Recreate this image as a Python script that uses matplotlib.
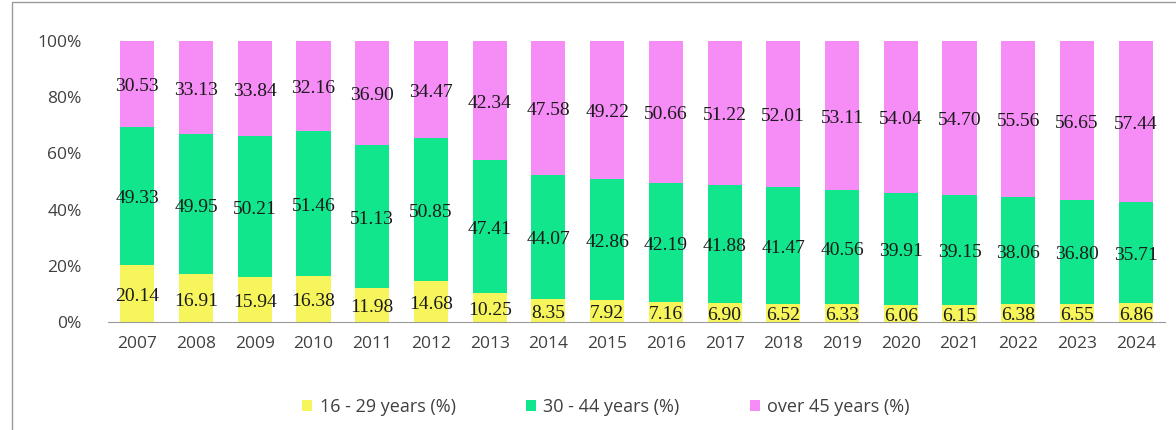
import numpy as np
import matplotlib
matplotlib.use("Agg")
import matplotlib.pyplot as plt
from matplotlib.patches import Rectangle
from matplotlib.ticker import FuncFormatter

# Data
years = [str(y) for y in range(2007, 2025)]
young = [20.14, 16.91, 15.94, 16.38, 11.98, 14.68, 10.25, 8.35, 7.92,
         7.16, 6.90, 6.52, 6.33, 6.06, 6.15, 6.38, 6.55, 6.86]
middle = [49.33, 49.95, 50.21, 51.46, 51.13, 50.85, 47.41, 44.07, 42.86,
          42.19, 41.88, 41.47, 40.56, 39.91, 39.15, 38.06, 36.80, 35.71]
older = [30.53, 33.13, 33.84, 32.16, 36.90, 34.47, 42.34, 47.58, 49.22,
         50.66, 51.22, 52.01, 53.11, 54.04, 54.70, 55.56, 56.65, 57.44]
series_names = ['16 - 29 years (%)', '30 - 44 years (%)', 'over 45 years (%)']

colors = ['#F7F55C', '#12E68C', '#F68CF5']

fig = plt.figure(figsize=(11.76, 4.30), dpi=100)
ax = fig.add_axes([108 / 1176, 1 - 322 / 430, (1165 - 108) / 1176, (322 - 41) / 430])

x = np.arange(len(years))
width = 0.58
bottom = np.zeros(len(years))
for vals, col, name in zip([young, middle, older], colors, series_names):
    vals = np.array(vals)
    ax.bar(x, vals, width, bottom=bottom, color=col, label=name, zorder=2)
    for xi, b, v in zip(x, bottom, vals):
        ax.text(xi, b + v / 2 - 1.0, f'{v:.2f}', ha='center', va='center',
                fontsize=14, family='Liberation Serif', color='#1a1a1a', zorder=3)
    bottom += vals

ax.set_xlim(-0.5, len(years) - 0.5)
ax.set_ylim(0, 100)
ax.set_yticks(np.arange(0, 101, 20))
ax.yaxis.set_major_formatter(FuncFormatter(lambda v, p: f'{int(v)}%'))
ax.set_xticks(x)
ax.set_xticklabels(years)

for side in ['left', 'right', 'top']:
    ax.spines[side].set_visible(False)
ax.spines['bottom'].set_color('#9a9a9a')
ax.tick_params(axis='both', length=0, colors='#404040', labelsize=12.5)
ax.tick_params(axis='y', pad=19)
ax.tick_params(axis='x', pad=10)
for lab in ax.get_xticklabels() + ax.get_yticklabels():
    lab.set_family('Open Sans')

leg = fig.legend(loc='center', bbox_to_anchor=(606 / 1176, 1 - 407 / 430), ncol=3,
                 frameon=False, handlelength=0.55, handleheight=0.55,
                 handletextpad=0.4, columnspacing=3.9,
                 prop={'family': 'Open Sans', 'size': 13})
for t in leg.get_texts():
    t.set_color('#404040')

# outer chart border
fig.patches.append(Rectangle((12 / 1176, -0.05), 1.2, 1.05 - 2 / 430,
                             transform=fig.transFigure, fill=False,
                             edgecolor='#9a9a9a', linewidth=1))

fig.savefig('out.png', dpi=100)
